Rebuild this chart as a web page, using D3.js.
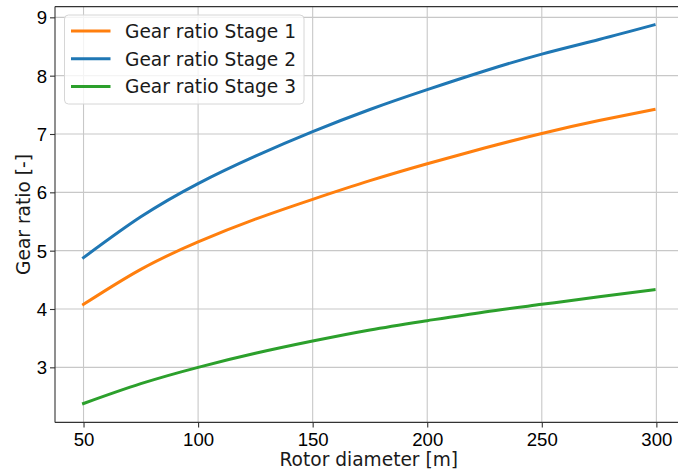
<!DOCTYPE html>
<html>
<head>
<meta charset="utf-8">
<script src="https://cdn.jsdelivr.net/npm/d3@7"></script>
<style>
  html, body { margin: 0; padding: 0; background: #ffffff; }
  svg { display: block; font-family: "DejaVu Sans", sans-serif; }
  .tick text { font-size: 18.6px; fill: #000; }
</style>
</head>
<body>
<svg id="chart" width="678" height="473"></svg>
<script>
// Rotor diameter [m] at which the gear ratios are sampled
const rotorDiameter = [50, 75, 100, 125, 150, 175, 200, 225, 250, 275, 299];

// Gear ratio of each stage
const stage1 = [4.08, 4.68, 5.15, 5.54, 5.88, 6.20, 6.49, 6.76, 7.01, 7.23, 7.42];
const stage2 = [4.88, 5.58, 6.15, 6.62, 7.04, 7.42, 7.76, 8.08, 8.37, 8.62, 8.87];
const stage3 = [2.38, 2.72, 3.00, 3.24, 3.45, 3.64, 3.80, 3.95, 4.08, 4.21, 4.33];

const seriesNames = ["Gear ratio Stage 1", "Gear ratio Stage 2", "Gear ratio Stage 3"];
const seriesColors = ["#ff7f0e", "#1f77b4", "#2ca02c"];

const xTicks = [50, 100, 150, 200, 250, 300];
const yTicks = [3, 4, 5, 6, 7, 8, 9];

const series = [stage1, stage2, stage3].map((vals, i) => ({
  name: seriesNames[i],
  color: seriesColors[i],
  points: vals.map((v, j) => ({ x: rotorDiameter[j], y: v }))
}));

const svg = d3.select("#chart");
const fontSize = 18.6;

// Plot area
const plotLeft = 55, plotTop = 6.6, plotBottom = 422.4, plotRight = 682.6;

const x = d3.scaleLinear().domain([37.55, 311.45]).range([plotLeft, plotRight]);
const y = d3.scaleLinear().domain([2.056, 9.184]).range([plotBottom, plotTop]);

svg.append("defs").append("clipPath").attr("id", "plot-clip")
  .append("rect").attr("x", plotLeft).attr("y", plotTop)
  .attr("width", plotRight - plotLeft).attr("height", plotBottom - plotTop);

// Grid
const grid = svg.append("g");
grid.selectAll(".gx").data(xTicks).join("line")
  .attr("x1", d => x(d)).attr("x2", d => x(d))
  .attr("y1", plotTop).attr("y2", plotBottom)
  .attr("stroke", "#c8c8c8").attr("stroke-width", 1.1);
grid.selectAll(".gy").data(yTicks).join("line")
  .attr("x1", plotLeft).attr("x2", plotRight)
  .attr("y1", d => y(d)).attr("y2", d => y(d))
  .attr("stroke", "#c8c8c8").attr("stroke-width", 1.1);

// Lines
const line = d3.line().x(d => x(d.x)).y(d => y(d.y)).curve(d3.curveNatural);
svg.append("g").attr("clip-path", "url(#plot-clip)")
  .selectAll("path").data(series).join("path")
  .attr("d", d => line(d.points))
  .attr("fill", "none")
  .attr("stroke", d => d.color)
  .attr("stroke-width", 3)
  .attr("stroke-linecap", "square");

// Axes
const xAxis = svg.append("g").attr("transform", `translate(0,${plotBottom})`)
  .call(d3.axisBottom(x).tickValues(xTicks).tickSize(5).tickPadding(5).tickFormat(d3.format("d")));
const yAxis = svg.append("g").attr("transform", `translate(${plotLeft},0)`)
  .call(d3.axisLeft(y).tickValues(yTicks).tickSize(5).tickPadding(3).tickFormat(d3.format("d")));
[xAxis, yAxis].forEach(a => {
  a.select(".domain").remove();
  a.selectAll(".tick line").attr("stroke", "#333").attr("stroke-width", 1.1);
  a.selectAll(".tick text").attr("fill", "#1a1a1a");
});
yAxis.selectAll(".tick text").attr("dy", "0.35em");

// Spines
const spines = svg.append("g").attr("stroke", "#333").attr("stroke-width", 1.1).attr("fill", "none");
spines.append("line").attr("x1", plotLeft).attr("x2", plotLeft).attr("y1", plotTop).attr("y2", plotBottom);
spines.append("line").attr("x1", plotLeft).attr("x2", plotRight).attr("y1", plotBottom).attr("y2", plotBottom);
spines.append("line").attr("x1", plotLeft).attr("x2", plotRight).attr("y1", plotTop).attr("y2", plotTop);
spines.append("line").attr("x1", plotRight).attr("x2", plotRight).attr("y1", plotTop).attr("y2", plotBottom);

// Axis labels
svg.append("text")
  .attr("x", (plotLeft + plotRight) / 2).attr("y", 466)
  .attr("text-anchor", "middle").attr("font-size", fontSize).attr("fill", "#1a1a1a")
  .text("Rotor diameter [m]");
svg.append("text")
  .attr("transform", `translate(29.5,${(plotTop + plotBottom) / 2}) rotate(-90)`)
  .attr("text-anchor", "middle").attr("font-size", fontSize).attr("fill", "#1a1a1a")
  .text("Gear ratio [-]");

// Legend
const legend = svg.append("g");
legend.append("rect")
  .attr("x", 64.5).attr("y", 15).attr("width", 239.5).attr("height", 89)
  .attr("rx", 4).attr("ry", 4)
  .attr("fill", "#ffffff").attr("fill-opacity", 0.8)
  .attr("stroke", "#d6d6d6").attr("stroke-width", 1);
const rows = legend.selectAll(".row").data(series).join("g")
  .attr("transform", (d, i) => `translate(0,${31 + i * 27.8})`);
rows.append("line")
  .attr("x1", 71).attr("x2", 110.5).attr("y1", 0).attr("y2", 0)
  .attr("stroke", d => d.color).attr("stroke-width", 3);
rows.append("text")
  .attr("x", 125).attr("y", 0).attr("dy", "0.36em")
  .attr("font-size", fontSize).attr("fill", "#1a1a1a")
  .text(d => d.name);
</script>
</body>
</html>
